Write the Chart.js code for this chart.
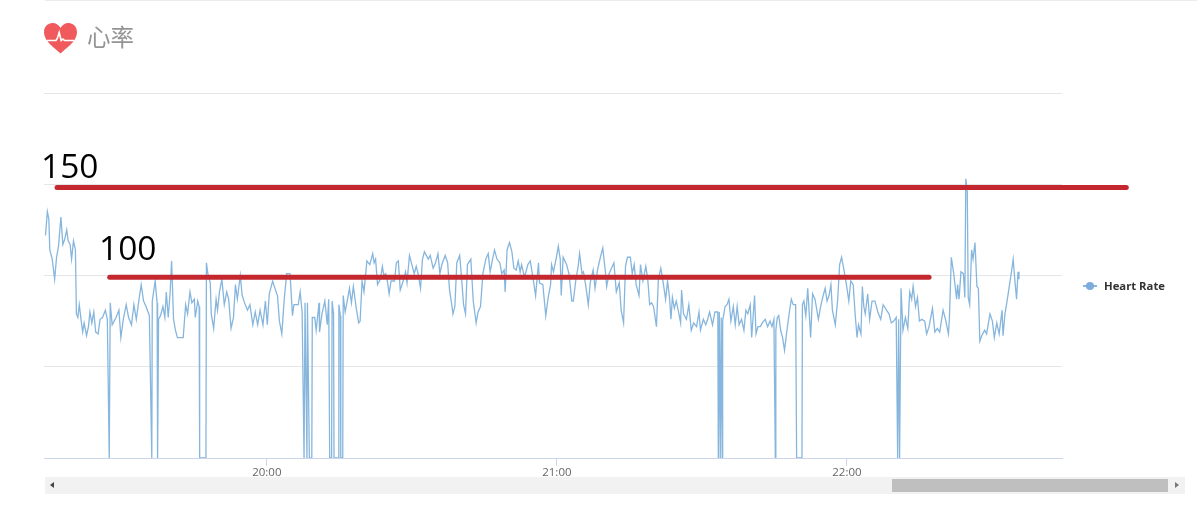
<!DOCTYPE html>
<html lang="zh">
<head>
  <meta charset="UTF-8">
  <title>心率</title>
  <style>
    * { margin: 0; padding: 0; box-sizing: border-box; }
    body { width: 1197px; height: 509px; background: #fff; position: relative; overflow: hidden; font-family: "Liberation Sans", Arial, sans-serif; }
    canvas { position: absolute; left: 0; top: 0; }
    .topline { position: absolute; left: 45px; right: 0; top: 0; height: 1px; background: #ececec; }
    .heart { position: absolute; left: 44px; top: 22px; }
    .title { position: absolute; left: 87px; top: 21px; font: 23.5px/30px "Noto Sans CJK SC", sans-serif; color: #949494; }
    /* hand written numbers on top of the chart */
    .note { position: absolute; font: 33.5px/40px "Open Sans", sans-serif; color: #000; }
    .legend { position: absolute; left: 1083px; top: 278px; height: 16px; }
    .legend i { position: absolute; left: 0; top: 7px; width: 14px; height: 2px; background: #86b6dd; }
    .legend b { position: absolute; left: 3px; top: 4px; width: 8px; height: 8px; border-radius: 50%; background: #7cabdc; }
    .legend span { position: absolute; left: 21px; top: 0; font: bold 11.3px/16px "Open Sans", sans-serif; color: #333; white-space: nowrap; }
    .track { position: absolute; left: 45px; top: 477px; width: 1140px; height: 17px; background: #f2f2f2; }
    .thumb { position: absolute; left: 847px; top: 2px; width: 276px; height: 13px; background: #bfbfbf; }
    .arrow { position: absolute; top: 5px; width: 0; height: 0; border-top: 3.5px solid transparent; border-bottom: 3.5px solid transparent; }
    .arrow.l { left: 5px; border-right: 4px solid #444; }
    .arrow.r { left: 1130px; border-left: 4px solid #777; }
  </style>
  <script src="https://cdn.jsdelivr.net/npm/chart.js"></script>
</head>
<body>
  <canvas id="hrChart" width="1197" height="509"></canvas>
  <div class="topline"></div>

  <svg class="heart" width="33" height="32" viewBox="0 0 33 32">
    <path d="M16.5 31.5 C12 27 0 19.5 0 10.5 C0 4.5 4 1 8.5 1 C12 1 15 3 16.5 6 C18 3 21 1 24.5 1 C29 1 33 4.5 33 10.5 C33 19.5 21 27 16.5 31.5 Z" fill="#f15a5c"/>
    <path d="M3 18.5 H12 L13.5 16 L15.2 10.5 L17.2 18.5 L19 17 L20.5 18.5 H30" fill="none" stroke="#fff" stroke-width="1.6"/>
  </svg>
  <div class="title">心率</div>

  <div class="note" style="left:41px;top:145px">150</div>
  <div class="note" style="left:99px;top:227px">100</div>

  <div class="legend"><i></i><b></b><span>Heart Rate</span></div>

  <div class="track">
    <div class="arrow l"></div>
    <div class="thumb"></div>
    <div class="arrow r"></div>
  </div>

  <script>
    // time of day in minutes since midnight
    const minutes = [
      1154.2,1154.6,1154.9,1155.1,1155.6,1156.1,1156.5,1156.9,1157.4,1157.8,
      1158.2,1158.6,1158.9,1159.3,1159.6,1160.0,1160.4,1160.6,1160.9,1161.2,
      1161.6,1161.9,1162.2,1162.7,1163.1,1163.4,1163.8,1164.2,1164.6,1165.1,
      1165.5,1166.0,1166.6,1167.0,1167.4,1167.6,1168.0,1168.4,1168.8,1169.4,
      1169.8,1170.3,1170.9,1171.4,1172.0,1172.5,1173.0,1173.5,1174.0,1174.5,
      1175.0,1175.7,1176.2,1176.3,1176.9,1177.3,1177.4,1177.6,1178.0,1178.5,
      1178.9,1179.2,1179.6,1180.0,1180.3,1180.7,1181.1,1181.5,1182.7,1183.2,
      1183.6,1184.1,1184.5,1185.0,1185.2,1185.7,1186.0,1186.1,1187.4,1187.5,
      1187.8,1188.3,1188.5,1189.0,1189.5,1189.8,1190.2,1190.7,1191.2,1191.7,
      1192.1,1192.6,1193.1,1193.5,1193.9,1194.5,1194.9,1195.4,1196.0,1196.5,
      1197.1,1197.6,1198.1,1198.6,1199.2,1199.7,1200.1,1200.5,1201.2,1201.8,
      1202.2,1202.6,1203.1,1203.6,1204.1,1204.8,1205.3,1205.6,1206.5,1206.9,
      1207.3,1207.7,1207.9,1208.3,1208.4,1208.8,1209.3,1209.4,1209.9,1210.2,
      1210.8,1210.9,1211.4,1212.0,1212.5,1212.8,1213.0,1213.4,1213.5,1213.8,
      1213.9,1214.8,1214.9,1215.2,1215.3,1215.7,1215.8,1216.2,1216.7,1217.1,
      1217.5,1217.9,1218.5,1219.0,1219.3,1219.7,1220.1,1220.7,1221.3,1221.9,
      1222.2,1222.5,1222.9,1223.5,1223.9,1224.2,1224.6,1225.0,1225.3,1225.7,
      1226.4,1226.8,1227.2,1227.6,1228.2,1228.7,1229.0,1229.5,1230.1,1230.5,
      1230.9,1231.3,1231.8,1232.2,1232.6,1233.0,1233.4,1233.8,1234.4,1234.9,
      1235.4,1235.8,1236.2,1236.9,1237.4,1237.8,1238.2,1238.5,1238.9,1239.3,
      1239.9,1240.3,1240.7,1241.1,1241.5,1242.2,1242.7,1243.3,1243.7,1244.2,
      1244.7,1245.3,1245.8,1246.2,1246.7,1247.1,1247.6,1248.2,1248.6,1249.1,
      1249.3,1249.7,1250.2,1250.7,1251.1,1251.6,1252.0,1252.4,1252.7,1253.3,
      1254.0,1254.5,1255.1,1255.6,1256.2,1256.4,1257.1,1257.7,1258.2,1258.7,
      1258.9,1259.3,1259.9,1260.3,1260.7,1260.9,1261.3,1262.0,1262.5,1263.1,
      1263.4,1263.9,1264.4,1264.7,1265.2,1265.5,1266.0,1266.5,1266.9,1267.5,
      1267.9,1268.4,1269.0,1269.5,1270.0,1270.3,1270.8,1271.3,1271.8,1272.3,
      1272.9,1273.3,1273.8,1274.2,1274.6,1275.2,1275.6,1276.0,1276.4,1277.0,
      1277.3,1277.8,1278.4,1278.8,1279.2,1279.6,1280.0,1280.6,1281.0,1281.5,
      1282.0,1282.5,1282.9,1283.3,1283.6,1283.9,1284.3,1284.7,1285.1,1285.6,
      1285.8,1286.2,1286.8,1287.3,1287.8,1288.3,1288.9,1289.4,1289.7,1290.3,
      1290.8,1291.2,1291.6,1292.2,1292.7,1293.3,1293.4,1293.6,1293.8,1294.0,
      1294.2,1294.3,1294.8,1295.2,1295.6,1296.0,1296.5,1296.9,1297.3,1297.7,
      1298.2,1298.7,1299.1,1299.5,1300.0,1300.3,1300.9,1301.2,1301.6,1302.1,
      1302.5,1303.1,1303.6,1304.1,1304.5,1304.9,1305.2,1305.3,1305.6,1305.9,
      1306.3,1306.7,1307.1,1307.6,1308.1,1308.5,1308.9,1309.4,1309.6,1310.7,
      1310.8,1311.1,1311.5,1311.9,1312.5,1312.9,1313.4,1314.1,1314.5,1314.9,
      1315.5,1315.9,1316.3,1316.7,1317.0,1317.6,1318.1,1318.5,1318.9,1319.4,
      1319.9,1320.4,1320.8,1321.3,1321.7,1322.1,1322.4,1322.9,1323.2,1323.5,
      1323.8,1324.3,1324.7,1325.2,1325.8,1326.4,1327.0,1327.5,1328.2,1328.7,
      1329.2,1329.7,1330.2,1330.5,1330.7,1330.9,1331.2,1331.6,1332.1,1332.6,
      1333.0,1333.4,1333.7,1334.2,1334.6,1335.0,1335.5,1336.1,1336.5,1337.0,
      1337.7,1338.2,1338.7,1339.2,1339.9,1340.4,1341.0,1341.2,1341.6,1342.1,
      1342.7,1342.9,1343.2,1343.6,1344.1,1344.4,1344.6,1344.9,1345.1,1345.4,
      1345.8,1346.1,1346.5,1346.9,1347.2,1347.5,1347.9,1348.5,1348.9,1349.6,
      1350.1,1350.5,1351.0,1351.5,1352.1,1352.3,1352.7,1353.2,1353.7,1354.1,
      1354.4,1354.7,1355.1,1355.4,1355.6
    ];

    // beats per minute, 0 where the sensor dropped out
    const heartRate = [
      122,135,131,114,109,98,110,116,132,117,
      120,125,119,117,109,119,114,79,77,84,
      75,69,74,67,72,80,74,80,69,68,
      76,77,81,76,0,85,73,75,77,81,
      66,76,84,77,73,84,76,86,95,86,
      83,78,0,86,97,85,0,76,78,83,
      77,91,77,91,108,76,70,66,66,84,
      79,91,85,87,77,86,83,0,0,107,
      101,96,79,71,87,81,91,98,84,91,
      87,71,77,95,87,100,89,85,81,84,
      73,80,73,81,73,86,73,90,97,92,
      89,75,68,87,101,101,78,84,84,91,
      80,0,85,0,85,0,0,77,77,70,
      85,69,79,86,73,87,0,0,86,79,
      0,0,84,78,0,0,89,80,87,93,
      85,94,82,74,75,97,91,108,106,112,
      107,109,95,98,105,100,101,96,90,97,
      97,107,108,92,97,102,96,111,105,101,
      105,101,93,109,113,111,109,111,104,107,
      112,101,106,111,107,92,85,79,83,107,
      111,98,84,79,106,109,86,74,80,83,
      101,109,112,102,109,114,109,107,101,103,
      91,114,118,113,104,103,108,102,106,99,
      106,108,98,89,107,96,95,78,88,95,
      106,102,110,116,109,89,110,106,101,86,
      86,97,105,112,101,102,94,84,96,103,
      93,103,110,115,103,94,101,104,107,91,
      96,81,74,105,110,110,101,106,95,89,
      106,97,105,98,84,85,83,72,98,104,
      96,87,97,88,76,88,82,86,81,74,
      92,79,76,84,70,74,72,80,70,76,
      73,76,80,73,80,80,0,80,0,77,
      0,75,83,84,87,75,83,73,83,73,
      76,70,81,79,84,66,89,68,72,72,
      74,76,72,75,72,76,0,70,77,78,
      70,66,59,70,80,87,84,84,0,0,
      84,86,78,93,66,90,87,76,82,87,
      93,86,89,95,81,73,87,106,110,103,
      95,86,97,95,79,66,73,68,94,83,
      79,90,76,86,86,80,76,84,81,79,
      74,75,77,0,76,0,93,70,77,71,
      91,87,94,83,88,75,76,75,68,72,
      82,69,71,69,81,76,68,76,110,101,
      87,95,87,102,101,88,153,146,88,84,
      114,109,118,94,93,64,67,70,68,79,
      75,66,74,68,81,67,79,87,96,103,
      109,99,87,102,98
    ];

    // x axis ticks
    const tickMinutes = [1200, 1260, 1320];
    const tickLabels = ['20:00', '21:00', '22:00'];

    // y axis grid values, the axis shows no labels
    const gridValues = [0, 50, 100, 150, 200];

    // red lines drawn over the chart by hand
    const line150Minutes = [1156.6, 1377.8];
    const line150Values = [148.2, 148.2];
    const line100Minutes = [1167.5, 1337.0];
    const line100Values = [99, 99];

    const toPoints = (xs, ys) => xs.map((x, i) => ({ x: x, y: ys[i] }));

    const redLine = (label, xs, ys) => ({
      label: label,
      data: toPoints(xs, ys),
      borderColor: '#c5272f',
      borderWidth: 5,
      borderCapStyle: 'round',
      pointRadius: 0,
      clip: false,
      order: 0
    });

    new Chart(document.getElementById('hrChart').getContext('2d'), {
      type: 'line',
      data: {
        datasets: [
          {
            label: 'Heart Rate',
            data: toPoints(minutes, heartRate),
            borderColor: '#86b6dd',
            borderWidth: 1.3,
            pointRadius: 0,
            tension: 0,
            order: 1
          },
          redLine('150', line150Minutes, line150Values),
          redLine('100', line100Minutes, line100Values)
        ]
      },
      options: {
        responsive: false,
        animation: false,
        layout: { padding: { left: 44, right: 135, top: 93, bottom: 0 } },
        plugins: { legend: { display: false }, tooltip: { enabled: false } },
        scales: {
          x: {
            type: 'linear',
            min: 1153.9,
            max: 1364.5,
            afterBuildTicks: scale => { scale.ticks = tickMinutes.map(v => ({ value: v })); },
            afterFit: scale => { scale.height = 51; },
            grid: { drawOnChartArea: false, drawTicks: true, tickLength: 8, color: '#ccd6eb' },
            border: { color: '#ccd6eb' },
            ticks: {
              maxRotation: 0,
              padding: 0,
              color: '#666',
              font: { family: '"Open Sans", sans-serif', size: 11.5 },
              callback: value => tickLabels[tickMinutes.indexOf(value)]
            }
          },
          y: {
            min: 0,
            max: 200,
            afterBuildTicks: scale => { scale.ticks = gridValues.map(v => ({ value: v })); },
            afterFit: scale => { scale.width = 0; },
            grid: { color: '#e6e6e6', drawTicks: false },
            border: { display: false },
            ticks: { display: false }
          }
        }
      }
    });
  </script>
</body>
</html>
